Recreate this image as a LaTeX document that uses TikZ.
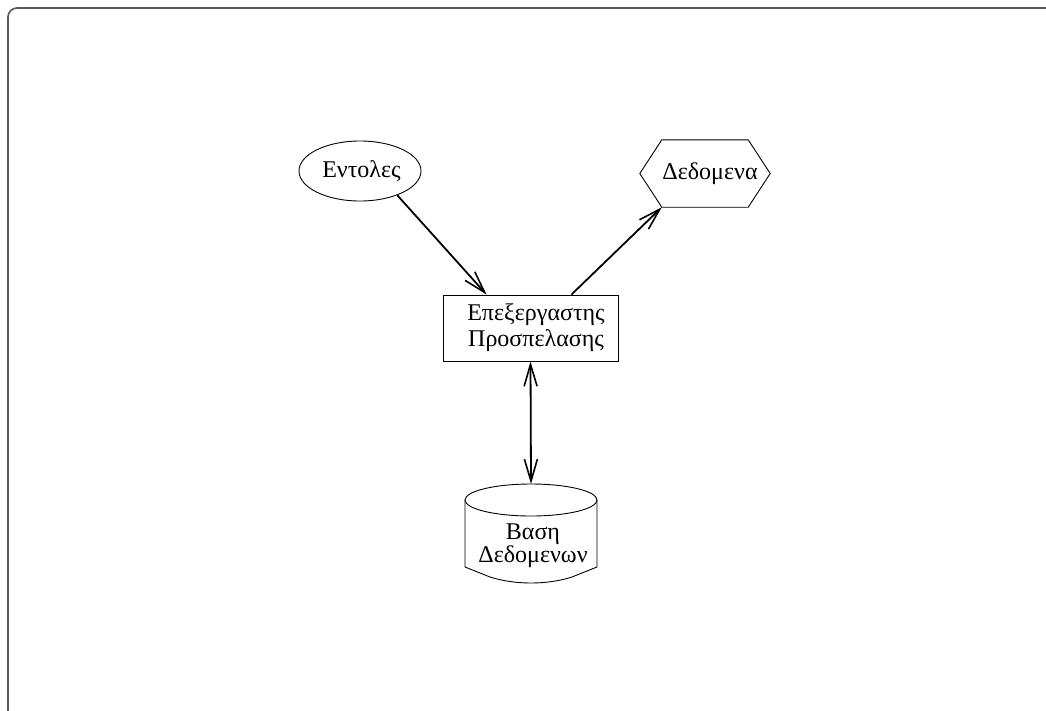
\documentclass[tikz,border=0pt]{standalone}
\usepackage{fontspec}
\setmainfont{Liberation Serif}
\usetikzlibrary{arrows.meta,shapes.geometric}
\begin{document}
\begin{tikzpicture}[x=1pt,y=-1pt,
  every node/.style={font=\fontsize{24}{26}\selectfont, inner sep=0pt},
  outline/.style={draw=black, line width=0.9pt},
  link/.style={line width=1.8pt, draw=black},
  barb/.tip={Straight Barb[length=22pt,width=13pt,line width=1.6pt]},
  tip/.style={-barb},
  bothtips/.style={barb-barb}]
\useasboundingbox (0,0) rectangle (1046,710);
% outer frame, only its top-left corner lies inside the page
\draw[draw=black!65, line width=1.6pt, rounded corners=9pt] (8,720) |- (1060,8);

% nodes
\node[ellipse, outline, minimum width=122pt, minimum height=60pt] (cmd) at (360,171) {\hspace*{3pt}Εντολες};
\node[minimum width=130pt, minimum height=67pt] (data) at (705,173.5) {\hspace*{10pt}Δεδομενα};
\draw[outline] (data.west) -- ([xshift=22pt]data.north west) -- ([xshift=-22pt]data.north east)
  -- (data.east) -- ([xshift=-22pt]data.south east) -- ([xshift=22pt]data.south west) -- cycle;
\node[rectangle, outline, minimum width=175pt, minimum height=66pt, align=center] (proc) at (530.5,328)
  {\hspace*{11pt}Επεξεργαστης\\\hspace*{11pt}Προσπελασης};

% database cylinder
\coordinate (dbtop) at (531,484);
\draw[outline] (531,500) ellipse [x radius=66pt, y radius=16pt];
\draw[outline] (465,500) -- (465,567) -- (490,577) .. controls (515,585) and (547,585) .. (572,577)
  -- (597,567) -- (597,500);
\node[align=center, font=\fontsize{24}{19.5}\selectfont] (db) at (533,546) {Βαση\\Δεδομενων};

% connectors
\draw[link, tip] (cmd.-33) -- ([xshift=44pt]proc.north west);
\draw[link, tip] ([xshift=-47pt]proc.north east) -- ([xshift=22pt]data.south west);
\draw[link, bothtips] (proc.south) -- (dbtop);
\end{tikzpicture}
\end{document}
